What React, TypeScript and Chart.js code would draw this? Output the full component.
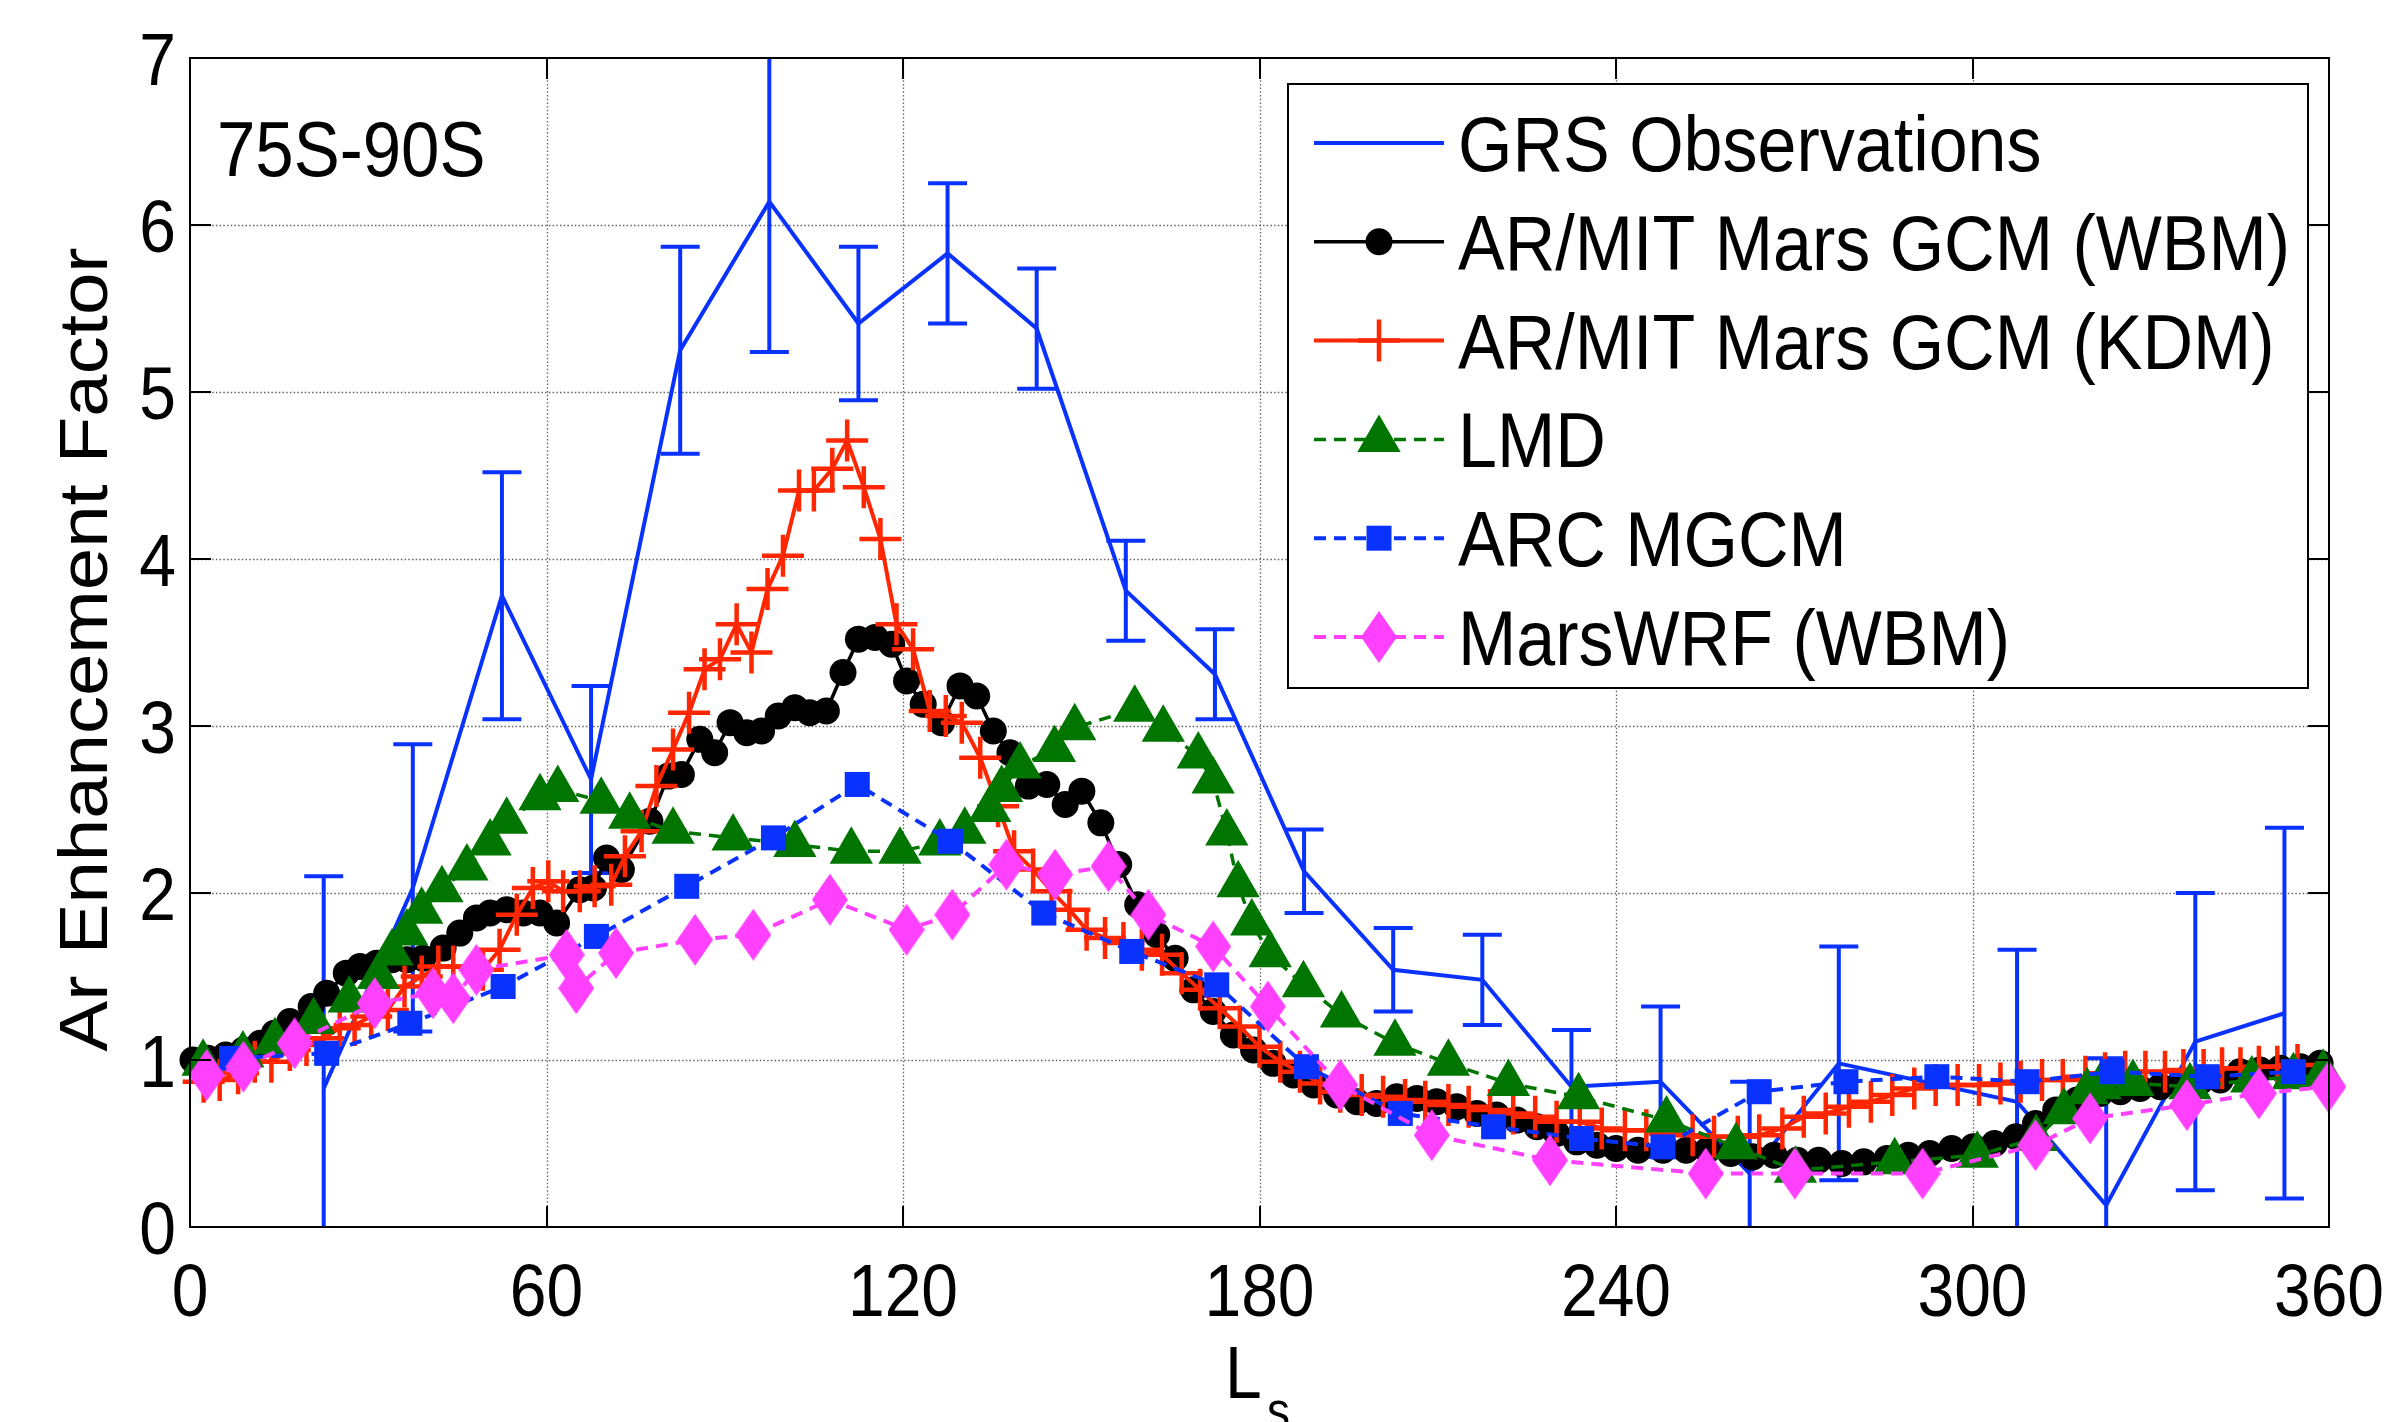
import React, { useEffect, useRef } from 'react';
import { Chart, registerables } from 'chart.js';

Chart.register(...registerables);

const FONT = '"Liberation Sans", Arial, Helvetica, sans-serif';
const VS = 1.12;

const xTickVals = [0, 60, 120, 180, 240, 300, 360];
const yTickVals = [0, 1, 2, 3, 4, 5, 6, 7];
const legendLabels = ['GRS Observations', 'AR/MIT Mars GCM (WBM)', 'AR/MIT Mars GCM (KDM)', 'LMD', 'ARC MGCM', 'MarsWRF (WBM)'];
const regionLabel = '75S-90S';
const yTitle = 'Ar Enhancement Factor';

const grsLs = [22.5, 37.5, 52.5, 67.5, 82.5, 97.5, 112.5, 127.5, 142.5, 157.5, 172.5, 187.5, 202.5, 217.5, 232.5, 247.5, 262.5, 277.5, 307.5, 322.5, 337.5, 352.5];
const grsVal = [0.83, 2.03, 3.78, 2.68, 5.25, 6.14, 5.41, 5.83, 5.38, 3.81, 3.31, 2.13, 1.54, 1.48, 0.84, 0.87, 0.32, 0.98, 0.75, 0.13, 1.11, 1.28];
const grsErr = [1.27, 0.86, 0.74, 0.56, 0.62, 0.9, 0.46, 0.42, 0.36, 0.3, 0.27, 0.25, 0.25, 0.27, 0.34, 0.45, 0.55, 0.7, 0.91, 0.88, 0.89, 1.11];

const wbmLs = [0.5, 3, 6, 9, 11.8, 14.2, 16.8, 20.4, 23.0, 26.3, 28.6, 31.4, 34.0, 36.5, 39.2, 42.6, 45.4, 48.2, 50.5, 53.3, 56.1, 58.9, 61.7, 65.6, 67.9, 70.1, 72.6, 77.4, 80.5, 82.7, 85.8, 88.3, 90.9, 93.7, 96.2, 99.0, 101.8, 104.3, 107.1, 109.9, 112.5, 115.3, 118.1, 120.6, 123.4, 126.5, 129.6, 132.4, 135.2, 138.0, 141.1, 144.2, 147.3, 150.1, 153.3, 156.3, 159.5, 162.7, 165.8, 168.9, 172.2, 175.6, 179.0, 182.3, 185.7, 189.1, 193.0, 196.4, 199.7, 203.1, 206.5, 209.8, 213.2, 216.6, 219.9, 223.3, 226.7, 230.0, 233.4, 236.8, 240.0, 243.7, 247.9, 251.8, 255.4, 259.3, 263.0, 266.6, 270.5, 274.1, 278.0, 281.7, 285.6, 289.2, 292.8, 296.5, 300.1, 303.7, 307.3, 310.6, 314.0, 317.6, 321.5, 324.9, 328.2, 331.6, 334.9, 338.3, 341.7, 345.0, 348.4, 351.8, 355.2, 358.5];
const wbmVal = [1.0, 1.01, 1.03, 1.06, 1.1, 1.16, 1.23, 1.32, 1.4, 1.52, 1.56, 1.58, 1.6, 1.6, 1.61, 1.67, 1.76, 1.85, 1.88, 1.9, 1.88, 1.88, 1.82, 2.02, 2.03, 2.21, 2.14, 2.43, 2.7, 2.71, 2.92, 2.84, 3.02, 2.96, 2.97, 3.06, 3.11, 3.08, 3.09, 3.32, 3.52, 3.53, 3.49, 3.27, 3.13, 3.02, 3.24, 3.18, 2.97, 2.84, 2.64, 2.65, 2.53, 2.61, 2.42, 2.17, 1.93, 1.75, 1.61, 1.42, 1.29, 1.15, 1.06, 0.98, 0.91, 0.85, 0.79, 0.75, 0.74, 0.78, 0.77, 0.75, 0.72, 0.68, 0.67, 0.64, 0.6, 0.56, 0.51, 0.49, 0.47, 0.46, 0.46, 0.46, 0.46, 0.44, 0.42, 0.43, 0.4, 0.4, 0.38, 0.39, 0.41, 0.43, 0.44, 0.47, 0.48, 0.5, 0.54, 0.62, 0.7, 0.76, 0.8, 0.81, 0.83, 0.84, 0.86, 0.87, 0.88, 0.93, 0.94, 0.95, 0.96, 0.98];

const kdmLs = [2.3, 5.0, 8.1, 10.9, 13.7, 16.8, 19.6, 22.4, 25.2, 27.7, 30.5, 33.3, 36.1, 39.0, 41.8, 44.3, 49.3, 52.1, 55.0, 57.7, 60.3, 62.8, 65.6, 68.1, 70.9, 73.2, 76.0, 78.5, 81.3, 84.0, 86.6, 89.2, 92.0, 94.5, 97.2, 99.8, 102.5, 105.0, 108.1, 110.6, 113.4, 116.2, 118.9, 121.7, 124.5, 127.2, 129.9, 133.0, 136.0, 138.7, 141.9, 145.0, 148.0, 150.9, 154.0, 157.1, 160.2, 163.6, 166.9, 170.0, 173.3, 176.7, 180.0, 183.5, 186.8, 190.2, 193.6, 197.2, 200.8, 204.5, 207.9, 211.8, 215.2, 218.8, 222.7, 226.4, 230.0, 233.9, 237.6, 241.5, 245.1, 249.0, 252.9, 256.5, 260.5, 264.1, 268.0, 271.6, 275.3, 279.2, 282.9, 286.5, 290.2, 293.8, 297.5, 301.1, 304.7, 308.1, 311.7, 315.2, 319.0, 322.3, 325.7, 329.1, 332.4, 335.5, 338.9, 342.0, 345.1, 348.2, 351.3, 354.7];
const kdmVal = [0.87, 0.88, 0.92, 0.99, 0.99, 1.06, 1.09, 1.13, 1.19, 1.21, 1.26, 1.3, 1.44, 1.5, 1.56, 1.56, 1.54, 1.66, 1.87, 2.03, 2.07, 2.01, 2.01, 2.04, 2.05, 2.22, 2.37, 2.64, 2.86, 3.08, 3.34, 3.4, 3.61, 3.44, 3.82, 4.02, 4.41, 4.41, 4.54, 4.71, 4.43, 4.12, 3.61, 3.46, 3.09, 3.06, 3.02, 2.81, 2.52, 2.25, 2.14, 2.01, 1.9, 1.78, 1.73, 1.7, 1.66, 1.63, 1.52, 1.42, 1.31, 1.2, 1.08, 0.99, 0.93, 0.86, 0.81, 0.79, 0.78, 0.76, 0.75, 0.73, 0.72, 0.7, 0.68, 0.66, 0.63, 0.63, 0.59, 0.58, 0.58, 0.56, 0.55, 0.54, 0.54, 0.55, 0.59, 0.66, 0.68, 0.72, 0.75, 0.79, 0.83, 0.85, 0.85, 0.85, 0.86, 0.87, 0.88, 0.88, 0.9, 0.92, 0.93, 0.93, 0.93, 0.94, 0.94, 0.95, 0.95, 0.96, 0.96, 0.97];

const lmdLs = [2.2, 8.9, 14.3, 20.8, 26.8, 31.7, 34.0, 36.5, 39.0, 42.4, 46.6, 50.5, 53.3, 58.9, 61.9, 69.2, 74.0, 81.3, 91.4, 101.8, 111.3, 119.5, 126.2, 130.4, 134.6, 136.6, 139.7, 145.5, 148.9, 159.0, 163.8, 169.7, 172.2, 174.5, 176.4, 178.7, 181.8, 187.4, 193.8, 202.8, 211.8, 221.9, 233.7, 248.5, 260.2, 270.2, 286.9, 300.8, 310.7, 315.4, 319.3, 321.5, 327.0, 336.6, 347.0, 354.0, 359.0];
const lmdVal = [0.98, 1.03, 1.11, 1.23, 1.36, 1.5, 1.64, 1.76, 1.89, 2.02, 2.15, 2.3, 2.43, 2.57, 2.62, 2.55, 2.46, 2.37, 2.33, 2.29, 2.25, 2.25, 2.3, 2.37, 2.5, 2.62, 2.76, 2.86, 2.99, 3.1, 2.98, 2.82, 2.67, 2.36, 2.05, 1.82, 1.63, 1.45, 1.27, 1.1, 0.98, 0.86, 0.78, 0.64, 0.48, 0.34, 0.39, 0.43, 0.53, 0.69, 0.81, 0.84, 0.86, 0.84, 0.88, 0.9, 0.92];

const arcLs = [7.0, 23.0, 37.0, 52.7, 68.4, 83.6, 98.2, 112.3, 128.0, 143.7, 158.5, 172.8, 187.9, 203.7, 219.4, 234.2, 247.9, 264.1, 278.7, 294.0, 309.2, 323.5, 339.5, 354.0];
const arcVal = [1.01, 1.04, 1.22, 1.44, 1.74, 2.04, 2.33, 2.65, 2.31, 1.88, 1.65, 1.45, 0.96, 0.68, 0.6, 0.53, 0.48, 0.81, 0.87, 0.9, 0.87, 0.93, 0.9, 0.93];

const wrfLs = [2.8, 9.0, 17.6, 31.1, 40.9, 44.3, 48.2, 63.4, 65.0, 71.7, 85.0, 94.8, 107.7, 120.6, 128.3, 137.4, 145.6, 154.6, 161.3, 172.2, 181.4, 193.6, 209.0, 228.9, 255.1, 270.1, 291.6, 310.6, 319.8, 336.1, 348.2, 359.9];
const wrfVal = [0.91, 0.96, 1.1, 1.34, 1.4, 1.37, 1.54, 1.63, 1.43, 1.64, 1.72, 1.75, 1.96, 1.78, 1.87, 2.17, 2.11, 2.16, 1.87, 1.68, 1.32, 0.85, 0.55, 0.4, 0.32, 0.32, 0.32, 0.49, 0.65, 0.73, 0.8, 0.84];

const BLUE = 'rgb(10,50,255)';
const RED = 'rgb(255,38,0)';
const GREEN = 'rgb(0,118,0)';
const MAGENTA = 'rgb(255,64,255)';
const BLACK = '#000';

function pts(xs: number[], ys: number[]) {
  return xs.map((x, i) => ({ x, y: ys[i] }));
}

function makeDiamond(): HTMLCanvasElement {
  const c = document.createElement('canvas');
  c.width = 36;
  c.height = 52;
  const g = c.getContext('2d')!;
  g.fillStyle = MAGENTA;
  g.beginPath();
  g.moveTo(18, 0);
  g.lineTo(36, 26);
  g.lineTo(18, 52);
  g.lineTo(0, 26);
  g.closePath();
  g.fill();
  return c;
}

function text(ctx: CanvasRenderingContext2D, s: string, x: number, y: number, size: number, align: CanvasTextAlign = 'left') {
  ctx.save();
  ctx.font = `${size}px ${FONT}`;
  ctx.fillStyle = '#000';
  ctx.textAlign = align;
  ctx.textBaseline = 'alphabetic';
  ctx.translate(x, y);
  ctx.scale(1, VS);
  ctx.fillText(s, 0, 0);
  ctx.restore();
}

export default function App() {
  const ref = useRef<HTMLCanvasElement>(null);

  useEffect(() => {
    document.body.style.margin = '0';
    document.body.style.overflow = 'hidden';
    const canvas = ref.current!;
    const diamond = makeDiamond();

    const drawMarker = (ctx: CanvasRenderingContext2D, kind: string, x: number, y: number) => {
      ctx.save();
      ctx.setLineDash([]);
      if (kind === 'circle') {
        ctx.fillStyle = BLACK;
        ctx.beginPath();
        ctx.arc(x, y, 13.5, 0, Math.PI * 2);
        ctx.fill();
      } else if (kind === 'cross') {
        ctx.strokeStyle = RED;
        ctx.lineWidth = 4.5;
        ctx.beginPath();
        ctx.moveTo(x - 21, y);
        ctx.lineTo(x + 21, y);
        ctx.moveTo(x, y - 21);
        ctx.lineTo(x, y + 21);
        ctx.stroke();
      } else if (kind === 'triangle') {
        const r = 25;
        ctx.fillStyle = GREEN;
        ctx.beginPath();
        ctx.moveTo(x, y - r);
        ctx.lineTo(x + r * Math.sin((2 * Math.PI) / 3), y + r / 2);
        ctx.lineTo(x - r * Math.sin((2 * Math.PI) / 3), y + r / 2);
        ctx.closePath();
        ctx.fill();
      } else if (kind === 'rect') {
        ctx.fillStyle = BLUE;
        ctx.fillRect(x - 12.5, y - 12.5, 25, 25);
      } else if (kind === 'diamond') {
        ctx.drawImage(diamond, x - 18, y - 26);
      }
      ctx.restore();
    };

    const overlay = {
      id: 'overlay',
      beforeDatasetsDraw(chart: any) {
        const ctx: CanvasRenderingContext2D = chart.ctx;
        const { left, right, top, bottom } = chart.chartArea;
        const xs = chart.scales.x;
        const ys = chart.scales.y;
        ctx.save();
        ctx.strokeStyle = 'rgba(70,70,70,0.85)';
        ctx.lineWidth = 1.3;
        ctx.setLineDash([1.5, 2.2]);
        xTickVals.forEach((v) => {
          if (v === 0 || v === 360) return;
          const px = Math.round(xs.getPixelForValue(v)) + 0.5;
          ctx.beginPath();
          ctx.moveTo(px, top);
          ctx.lineTo(px, bottom);
          ctx.stroke();
        });
        yTickVals.forEach((v) => {
          if (v === 0 || v === 7) return;
          const py = Math.round(ys.getPixelForValue(v)) + 0.5;
          ctx.beginPath();
          ctx.moveTo(left, py);
          ctx.lineTo(right, py);
          ctx.stroke();
        });
        ctx.restore();

        // GRS error bars
        ctx.save();
        ctx.beginPath();
        ctx.rect(left, top, right - left, bottom - top);
        ctx.clip();
        ctx.strokeStyle = BLUE;
        ctx.lineWidth = 4;
        ctx.setLineDash([]);
        grsLs.forEach((l, i) => {
          const px = xs.getPixelForValue(l);
          const pt = ys.getPixelForValue(grsVal[i] + grsErr[i]);
          const pb = ys.getPixelForValue(grsVal[i] - grsErr[i]);
          ctx.beginPath();
          ctx.moveTo(px, pt);
          ctx.lineTo(px, pb);
          ctx.moveTo(px - 19.5, pt);
          ctx.lineTo(px + 19.5, pt);
          ctx.moveTo(px - 19.5, pb);
          ctx.lineTo(px + 19.5, pb);
          ctx.stroke();
        });
        ctx.restore();
      },
      afterDatasetsDraw(chart: any) {
        const ctx: CanvasRenderingContext2D = chart.ctx;
        const { left, right, top, bottom } = chart.chartArea;
        const xs = chart.scales.x;
        const ys = chart.scales.y;
        ctx.save();
        ctx.setLineDash([]);
        ctx.strokeStyle = '#000';
        ctx.lineWidth = 2;
        ctx.strokeRect(left, top, right - left, bottom - top);
        const tl = 21;
        ctx.beginPath();
        xTickVals.forEach((v) => {
          const px = Math.round(xs.getPixelForValue(v));
          ctx.moveTo(px, bottom);
          ctx.lineTo(px, bottom - tl);
          ctx.moveTo(px, top);
          ctx.lineTo(px, top + tl);
        });
        yTickVals.forEach((v) => {
          const py = Math.round(ys.getPixelForValue(v));
          ctx.moveTo(left, py);
          ctx.lineTo(left + tl, py);
          ctx.moveTo(right, py);
          ctx.lineTo(right - tl, py);
        });
        ctx.stroke();
        ctx.restore();

        // tick labels
        xTickVals.forEach((v) => {
          text(ctx, String(v), xs.getPixelForValue(v), bottom + 89, 66, 'center');
        });
        yTickVals.forEach((v) => {
          text(ctx, String(v), left - 14, ys.getPixelForValue(v) + 26.5, 66, 'right');
        });

        // axis titles
        ctx.save();
        ctx.font = `68px ${FONT}`;
        ctx.fillStyle = '#000';
        ctx.textAlign = 'center';
        ctx.textBaseline = 'alphabetic';
        ctx.translate(left - 83, (top + bottom) / 2 + 7);
        ctx.scale(1, VS);
        ctx.rotate(-Math.PI / 2);
        ctx.fillText(yTitle, 0, 0);
        ctx.restore();

        text(ctx, 'L', left + 1035, bottom + 171, 66, 'left');
        text(ctx, 's', left + 1077, bottom + 202, 46, 'left');

        // region label
        text(ctx, regionLabel, left + 27, top + 118, 69, 'left');

        // legend
        const bR = right - 21;
        const bL = bR - 1020;
        const bT = top + 26;
        const bH = 604;
        ctx.save();
        ctx.fillStyle = '#fff';
        ctx.fillRect(bL, bT, bR - bL, bH);
        ctx.strokeStyle = '#000';
        ctx.lineWidth = 2;
        ctx.strokeRect(bL, bT, bR - bL, bH);
        ctx.restore();
        const styles = [
          { color: BLUE, dash: [] as number[], width: 4, marker: '' },
          { color: BLACK, dash: [], width: 3.5, marker: 'circle' },
          { color: RED, dash: [], width: 4, marker: 'cross' },
          { color: GREEN, dash: [12, 8], width: 3.5, marker: 'triangle' },
          { color: BLUE, dash: [12, 8], width: 4, marker: 'rect' },
          { color: MAGENTA, dash: [12, 8], width: 4, marker: 'diamond' },
        ];
        legendLabels.forEach((lab, i) => {
          const cy = bT + 59 + 98.8 * i;
          const st = styles[i];
          ctx.save();
          ctx.strokeStyle = st.color;
          ctx.lineWidth = st.width;
          ctx.setLineDash(st.dash);
          ctx.beginPath();
          ctx.moveTo(bL + 26, cy);
          ctx.lineTo(bL + 156, cy);
          ctx.stroke();
          ctx.restore();
          if (st.marker) drawMarker(ctx, st.marker, bL + 91, cy);
          text(ctx, lab, bL + 170, cy + 28, 70, 'left');
        });
      },
    };

    const chart = new Chart(canvas, {
      type: 'line',
      data: {
        datasets: [
          {
            label: legendLabels[0],
            data: pts(grsLs, grsVal),
            borderColor: BLUE,
            borderWidth: 4,
            pointRadius: 0,
            order: 5,
          },
          {
            label: legendLabels[1],
            data: pts(wbmLs, wbmVal),
            borderColor: BLACK,
            borderWidth: 3.5,
            pointStyle: 'circle',
            pointRadius: 13.5,
            pointBackgroundColor: BLACK,
            pointBorderColor: BLACK,
            pointBorderWidth: 0,
            order: 4,
          },
          {
            label: legendLabels[2],
            data: pts(kdmLs, kdmVal),
            borderColor: RED,
            borderWidth: 4,
            pointStyle: 'cross',
            pointRadius: 21,
            pointBorderColor: RED,
            pointBorderWidth: 4.5,
            order: 3,
          },
          {
            label: legendLabels[3],
            data: pts(lmdLs, lmdVal),
            borderColor: GREEN,
            borderWidth: 3.5,
            borderDash: [12, 8],
            pointStyle: 'triangle',
            pointRadius: 25,
            pointBackgroundColor: GREEN,
            pointBorderColor: GREEN,
            pointBorderWidth: 0,
            order: 2,
          },
          {
            label: legendLabels[4],
            data: pts(arcLs, arcVal),
            borderColor: BLUE,
            borderWidth: 4,
            borderDash: [12, 8],
            pointStyle: 'rect',
            pointRadius: 17.7,
            pointBackgroundColor: BLUE,
            pointBorderColor: BLUE,
            pointBorderWidth: 0,
            order: 1,
          },
          {
            label: legendLabels[5],
            data: pts(wrfLs, wrfVal),
            borderColor: MAGENTA,
            borderWidth: 4,
            borderDash: [12, 8],
            pointStyle: diamond as any,
            pointRadius: 26,
            order: 0,
          },
        ] as any,
      },
      options: {
        responsive: false,
        maintainAspectRatio: false,
        devicePixelRatio: 1,
        animation: false,
        events: [],
        layout: { padding: { top: 58, right: 67, left: 0, bottom: 0 } },
        elements: { line: { tension: 0 } },
        datasets: { line: { clip: false as any } } as any,
        plugins: { legend: { display: false }, tooltip: { enabled: false } },
        scales: {
          x: {
            type: 'linear',
            min: 0,
            max: 360,
            afterFit: (s: any) => {
              s.height = 195;
            },
            ticks: { display: false, stepSize: 60 },
            grid: { display: false, drawTicks: false },
            border: { display: false },
          },
          y: {
            type: 'linear',
            min: 0,
            max: 7,
            afterFit: (s: any) => {
              s.width = 190;
            },
            ticks: { display: false, stepSize: 1 },
            grid: { display: false, drawTicks: false },
            border: { display: false },
          },
        },
      } as any,
      plugins: [overlay],
    });
    return () => chart.destroy();
  }, []);

  return (
    <div style={{ width: 2396, height: 1422, background: '#fff' }}>
      <canvas ref={ref} width={2396} height={1422} style={{ display: 'block', width: '2396px', height: '1422px' }} />
    </div>
  );
}
